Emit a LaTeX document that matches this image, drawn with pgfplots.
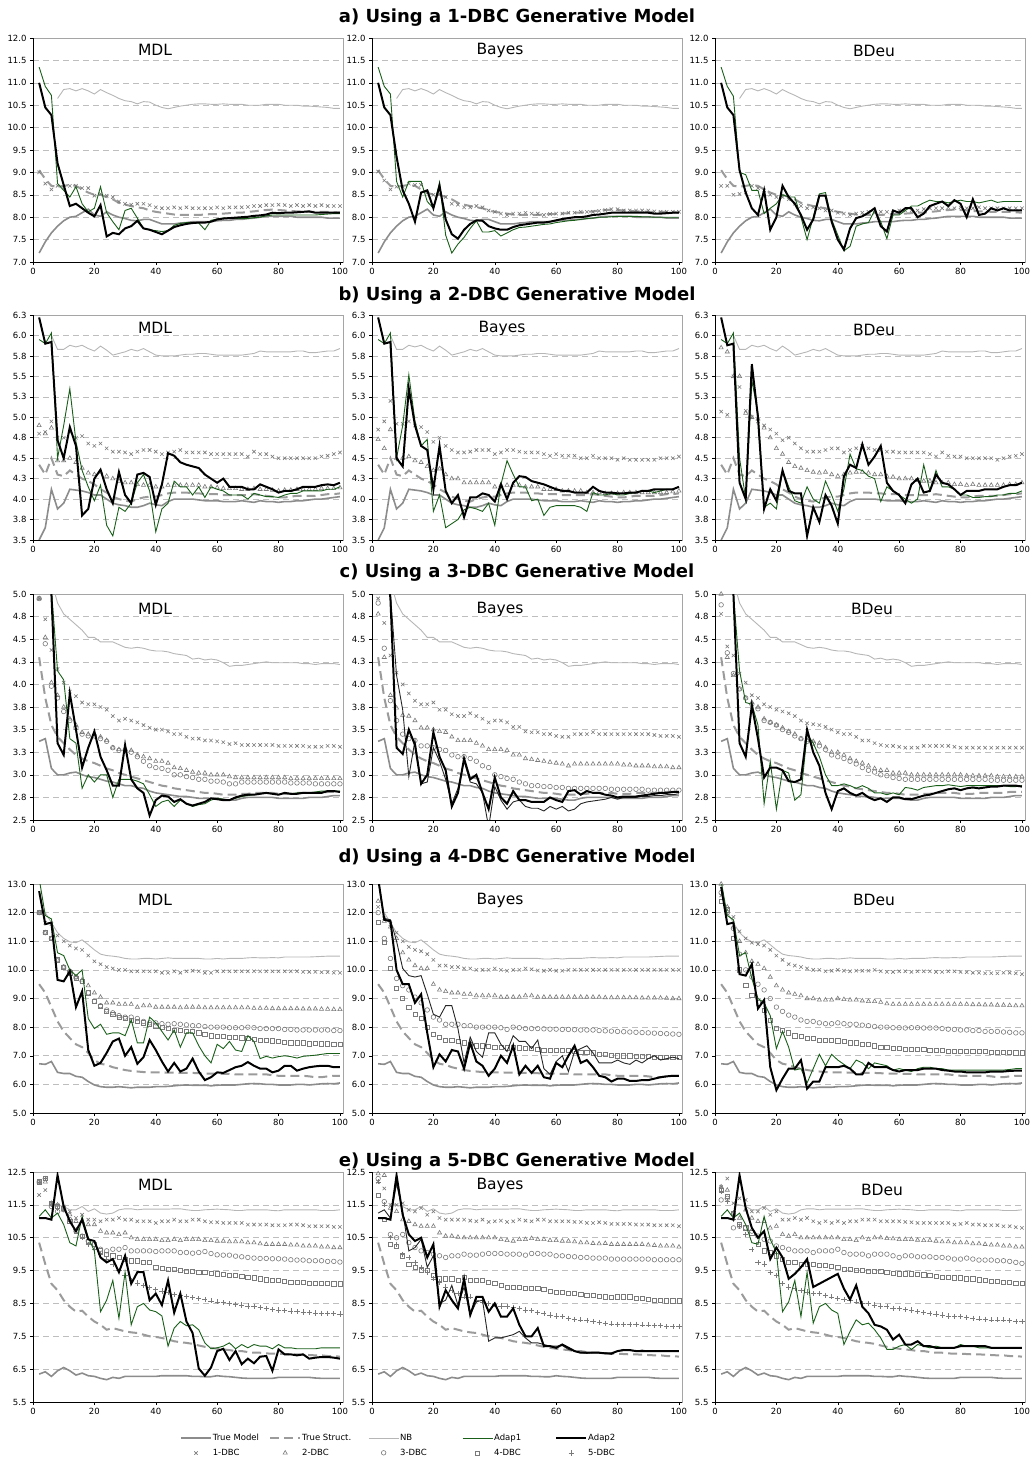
\documentclass[border=0pt]{standalone}
\usepackage{pgfplots}
\usepackage{pgfplotstable}
\pgfplotsset{compat=1.18}
\usepackage{fontspec}
\setmainfont{DejaVu Sans}

\definecolor{tmc}{RGB}{140,140,140}
\definecolor{tsc}{RGB}{155,155,155}
\definecolor{nbc}{RGB}{182,182,182}
\definecolor{a1c}{RGB}{25,95,25}
\definecolor{mkc}{RGB}{122,122,122}
\definecolor{gridc}{RGB}{190,190,190}
\definecolor{framec}{RGB}{165,165,165}

\pgfplotsset{
  tm/.style={tmc, line width=1.6pt, no markers},
  ts/.style={tsc, line width=2pt, dash pattern=on 9pt off 5pt, no markers},
  nb/.style={nbc, line width=0.9pt, no markers},
  a1/.style={a1c, line width=0.9pt, no markers},
  a1k/.style={black!85, line width=0.9pt, no markers},
  a2/.style={black, line width=2pt, no markers},
  dk/.style={mkc, only marks, mark size=2.4pt, mark options={line width=0.6pt, fill=none}},
  d1/.style={dk, mark=x},
  d2/.style={dk, mark=triangle},
  d3/.style={dk, mark=o, mark size=2.3pt},
  d4/.style={dk, mark=square, mark size=2.1pt},
  d5/.style={dk, mark=+, mark size=2.6pt},
  panel/.style={
    scale only axis, width=310pt, anchor=north west,
    xmin=0, xmax=101, xtick={0,20,...,100},
    tick align=outside, xtick pos=left, ytick pos=left,
    major tick length=3pt, tick style={black, line width=0.5pt},
    axis line style={framec, line width=0.6pt},
    ymajorgrids, major grid style={gridc, dash pattern=on 6pt off 4pt, line width=0.6pt},
    tick label style={font=\fontsize{8.5}{9}\selectfont},
    /pgf/number format/assume math mode=true,
    clip mode=individual,
    extra description/.code={\draw[black, line width=0.6pt] (0,1) -- (0,0) -- (1,0);},
  },
  onedec/.style={yticklabel style={/pgf/number format/.cd, fixed, fixed zerofill, precision=1}},
  rowA/.style={panel, height=224pt, ymin=7, ymax=12, ytick={7,7.5,...,12}, onedec},
  rowB/.style={panel, height=225pt, ymin=3.5, ymax=6.25,
    ytick={3.5,3.75,4,4.25,4.5,4.75,5,5.25,5.5,5.75,6,6.25},
    yticklabels={3.5,3.8,4.0,4.3,4.5,4.8,5.0,5.3,5.5,5.8,6.0,6.3}},
  rowC/.style={panel, height=226pt, ymin=2.5, ymax=5,
    ytick={2.5,2.75,3,3.25,3.5,3.75,4,4.25,4.5,4.75,5},
    yticklabels={2.5,2.8,3.0,3.3,3.5,3.8,4.0,4.3,4.5,4.8,5.0}},
  rowD/.style={panel, height=229pt, ymin=5, ymax=13, ytick={5,6,...,13}, onedec},
  rowE/.style={panel, height=230pt, ymin=5.5, ymax=12.5, ytick={5.5,6.5,...,12.5}, onedec},
}

% one series per row of each raw table, sample sizes 2,4,...,100
\newcommand\ser[3]{\addplot[#1] table[x expr=2*\coordindex+2, y=#2] {#3};}

% ---------- a) 1-DBC generative model ----------
\pgfplotstableread[header=false,row sep=\\]{
tm 7.2 7.45 7.65 7.8 7.92 8.0 8.02 8.1 8.18 8.05
8.02 8.12 8.05 8.0 7.97 7.93 7.92 7.95 7.95 7.9
7.85 7.85 7.85 7.87 7.88 7.9 7.9 7.9 7.9 7.92
7.93 7.93 7.95 7.95 7.97 7.98 8.0 8.02 8.02 8.02
8.02 8.02 8.0 8.0 8.0 8.0 8.0 7.98 7.98 7.98 \\
ts 9.05 8.85 8.7 8.68 8.7 8.72 8.7 8.62 8.55 8.5
8.5 8.45 8.4 8.32 8.28 8.25 8.22 8.2 8.15 8.12
8.1 8.08 8.06 8.05 8.05 8.05 8.05 8.06 8.07 8.07
8.08 8.09 8.1 8.1 8.12 8.13 8.15 8.16 8.17 8.16
8.15 8.14 8.13 8.13 8.12 8.12 8.12 8.12 8.11 8.1 \\
nb nan nan nan 10.65 10.85 10.87 10.82 10.87 10.82 10.75
10.85 10.78 10.72 10.65 10.6 10.58 10.53 10.58 10.57 10.5
10.45 10.42 10.45 10.48 10.5 10.52 10.53 10.53 10.52 10.52
10.53 10.52 10.52 10.52 10.5 10.5 10.5 10.52 10.52 10.52
10.5 10.5 10.5 10.48 10.48 10.47 10.46 10.45 10.43 10.43 \\
Ma1 11.35 10.92 10.72 8.75 8.6 8.45 8.68 8.3 8.12 8.2
8.68 8.1 7.9 7.72 8.15 8.2 7.98 7.75 7.72 7.7
7.68 7.7 7.82 7.86 7.88 7.88 7.87 7.72 7.93 7.96
7.98 7.97 7.97 7.97 7.97 7.99 8.0 8.03 8.05 8.05
8.05 8.05 8.05 8.05 8.05 8.05 8.06 8.07 8.08 8.08 \\
Ma2 11.0 10.45 10.28 9.2 8.72 8.25 8.3 8.2 8.1 8.02
8.27 7.57 7.65 7.62 7.75 7.8 7.92 7.75 7.72 7.67
7.62 7.7 7.78 7.82 7.85 7.87 7.88 7.88 7.9 7.95
7.97 7.98 7.99 8.0 8.01 8.03 8.04 8.06 8.1 8.09
8.1 8.1 8.11 8.12 8.13 8.1 8.1 8.1 8.1 8.1 \\
Md1 9.0 8.75 8.62 8.7 8.65 8.7 8.7 8.65 8.65 8.48
8.52 8.48 8.45 8.35 8.3 8.28 8.3 8.3 8.27 8.22
8.2 8.2 8.22 8.2 8.22 8.2 8.2 8.2 8.2 8.22
8.2 8.22 8.22 8.22 8.23 8.25 8.25 8.27 8.27 8.28
8.27 8.25 8.27 8.25 8.27 8.25 8.27 8.25 8.25 8.25 \\
Ba1 11.35 10.92 10.75 8.8 8.45 8.8 8.8 8.8 8.35 8.2
8.78 7.6 7.2 7.4 7.55 7.75 7.92 7.67 7.67 7.7
7.58 7.65 7.72 7.77 7.78 7.8 7.82 7.84 7.85 7.88
7.9 7.92 7.93 7.95 7.97 7.98 8.0 8.0 8.01 8.02
8.02 8.02 8.02 8.01 8.01 8.0 8.0 8.0 8.0 8.0 \\
Ba2 11.0 10.45 10.28 9.35 8.6 8.3 7.9 8.55 8.6 8.2
8.7 7.95 7.62 7.52 7.72 7.85 7.93 7.92 7.8 7.75
7.72 7.72 7.78 7.82 7.84 7.86 7.88 7.88 7.9 7.93
7.96 7.98 8.0 8.0 8.02 8.05 8.06 8.08 8.1 8.1
8.1 8.1 8.1 8.1 8.1 8.08 8.08 8.09 8.1 8.1 \\
Bd1 9.02 8.82 8.62 8.68 8.68 8.75 8.72 8.72 8.55 8.5
8.52 8.45 8.3 8.28 8.22 8.22 8.25 8.22 8.15 8.12
8.08 8.05 8.08 8.08 8.1 8.08 8.08 8.05 8.07 8.08
8.08 8.1 8.1 8.12 8.12 8.12 8.14 8.16 8.18 8.18
8.15 8.15 8.15 8.15 8.15 8.13 8.12 8.12 8.12 8.12 \\
Da1 11.35 10.92 10.7 9.0 8.95 8.6 8.6 8.08 8.2 8.3
8.5 8.45 8.45 8.0 7.5 8.0 8.52 8.55 7.95 7.6
7.25 7.35 7.8 7.85 7.88 8.15 7.9 7.52 8.05 8.05
8.15 8.25 8.25 8.32 8.38 8.35 8.35 8.32 8.35 8.38
8.35 8.35 8.32 8.35 8.38 8.33 8.35 8.35 8.35 8.35 \\
Da2 11.0 10.45 10.28 9.05 8.55 8.2 8.05 8.6 7.72 8.0
8.7 8.45 8.3 8.05 7.72 7.95 8.48 8.48 7.9 7.5
7.28 7.75 7.98 8.02 8.1 8.2 7.8 7.68 8.15 8.1
8.2 8.2 8.0 8.08 8.25 8.3 8.35 8.25 8.38 8.3
8.0 8.4 8.05 8.08 8.2 8.15 8.2 8.15 8.15 8.15 \\
Dd1 8.7 8.7 8.5 8.52 8.55 8.7 8.65 8.6 8.5 8.45
8.45 8.4 8.3 8.25 8.2 8.22 8.2 8.15 8.15 8.1
8.08 8.05 8.08 8.1 8.12 8.1 8.12 8.12 8.1 8.15
8.15 8.15 8.15 8.18 8.2 8.2 8.2 8.22 8.2 8.22
8.2 8.2 8.22 8.2 8.2 8.2 8.2 8.2 8.2 8.2 \\
}\rawA
\pgfplotstabletranspose[colnames from=0]{\tA}{\rawA}

% ---------- b) 2-DBC generative model ----------
\pgfplotstableread[header=false,row sep=\\]{
tm 3.5 3.65 4.12 3.88 3.95 4.12 4.11 4.1 4.08 4.05
4.05 4.0 3.95 3.93 3.92 3.9 3.9 3.92 3.95 3.93
3.92 3.97 4.0 4.0 4.0 4.0 3.99 3.98 3.98 3.98
3.97 3.97 3.97 3.98 3.97 3.96 3.98 3.97 3.97 3.96
3.97 3.97 3.98 3.98 3.99 4.0 4.0 4.01 4.02 4.03 \\
ts 4.42 4.3 4.5 4.3 4.28 4.35 4.3 4.25 4.22 4.18
4.12 4.08 4.03 4.0 3.98 3.97 4.0 4.02 4.03 4.03
4.05 4.07 4.08 4.08 4.08 4.07 4.07 4.06 4.06 4.06
4.05 4.05 4.05 4.05 4.05 4.06 4.05 4.04 4.03 4.02
4.02 4.03 4.04 4.04 4.04 4.04 4.05 4.06 4.06 4.07 \\
nb nan nan 6.0 5.83 5.83 5.88 5.86 5.88 5.84 5.81
5.87 5.82 5.76 5.78 5.8 5.83 5.81 5.84 5.8 5.76
5.75 5.75 5.75 5.76 5.77 5.77 5.78 5.78 5.77 5.76
5.76 5.76 5.76 5.76 5.77 5.78 5.81 5.8 5.8 5.8
5.8 5.8 5.81 5.81 5.79 5.79 5.8 5.81 5.81 5.84 \\
Ma1 5.95 5.9 6.03 4.5 4.9 5.35 4.7 4.35 4.15 3.98
4.17 3.68 3.55 3.9 3.85 3.95 4.2 4.3 4.1 3.6
3.88 3.95 4.22 4.15 4.15 4.05 4.15 4.02 4.15 4.12
4.1 4.05 4.05 4.05 4.0 4.07 4.05 4.03 4.03 4.02
4.05 4.07 4.07 4.1 4.1 4.1 4.1 4.12 4.12 4.15 \\
Ma2 6.22 5.9 5.92 4.72 4.5 4.88 4.65 3.8 3.88 4.25
4.36 4.12 3.95 4.33 4.05 3.95 4.3 4.32 4.27 3.93
4.18 4.56 4.53 4.45 4.42 4.4 4.38 4.3 4.25 4.2
4.25 4.15 4.15 4.15 4.12 4.12 4.18 4.15 4.12 4.08
4.1 4.1 4.12 4.15 4.15 4.15 4.17 4.18 4.17 4.2 \\
Md1 4.8 4.82 4.95 4.75 4.75 4.82 4.75 4.77 4.68 4.65
4.68 4.62 4.58 4.58 4.57 4.55 4.58 4.6 4.6 4.58
4.55 4.57 4.58 4.6 4.57 4.57 4.57 4.57 4.55 4.55
4.55 4.55 4.55 4.55 4.52 4.58 4.55 4.55 4.52 4.5
4.5 4.5 4.5 4.5 4.5 4.5 4.52 4.53 4.55 4.57 \\
Md2 4.9 4.8 4.87 4.47 4.47 4.5 4.45 4.38 4.32 4.3
4.33 4.28 4.25 4.22 4.2 4.2 4.18 4.17 4.17 4.15
4.15 4.17 4.17 4.17 4.17 4.17 4.17 4.15 4.15 4.14
4.13 4.13 4.13 4.12 4.12 4.13 4.12 4.12 4.11 4.1
4.11 4.11 4.12 4.12 4.12 4.12 4.13 4.13 4.13 4.14 \\
Ba1 5.95 5.9 6.03 4.5 4.9 5.52 4.95 4.65 4.73 3.85
4.05 3.65 3.7 3.75 3.87 3.9 3.88 3.85 3.95 3.68
4.18 4.47 4.3 4.15 4.15 3.98 4.0 3.8 3.9 3.92
3.92 3.92 3.92 3.9 3.85 4.08 4.05 4.05 4.07 4.05
4.05 4.07 4.08 4.1 4.1 4.08 4.1 4.12 4.12 4.15 \\
Ba2 6.22 5.9 5.92 4.5 4.4 5.35 4.9 4.65 4.6 4.12
4.65 4.1 3.95 4.05 3.78 4.02 4.02 4.07 4.05 3.97
4.18 4.0 4.2 4.28 4.27 4.22 4.2 4.18 4.15 4.12
4.1 4.1 4.08 4.08 4.08 4.15 4.1 4.08 4.08 4.07
4.07 4.08 4.08 4.1 4.1 4.12 4.12 4.12 4.12 4.15 \\
Bd1 4.85 4.95 5.2 4.92 4.92 4.95 4.9 4.88 4.82 4.7
4.75 4.65 4.6 4.57 4.57 4.58 4.6 4.6 4.6 4.55
4.57 4.6 4.6 4.58 4.57 4.57 4.57 4.55 4.53 4.55
4.53 4.53 4.53 4.5 4.5 4.53 4.5 4.5 4.5 4.48
4.5 4.48 4.48 4.48 4.48 4.48 4.5 4.5 4.5 4.52 \\
Bd2 4.73 4.62 4.85 4.5 4.5 4.52 4.47 4.45 4.4 4.35
4.37 4.3 4.25 4.25 4.2 4.2 4.2 4.2 4.2 4.15
4.17 4.17 4.17 4.17 4.15 4.15 4.15 4.12 4.12 4.12
4.1 4.1 4.1 4.1 4.08 4.08 4.08 4.07 4.07 4.07
4.08 4.08 4.08 4.08 4.08 4.08 4.08 4.08 4.09 4.1 \\
Da1 5.95 5.9 6.03 4.5 4.0 5.45 5.05 3.9 3.95 3.88
4.35 4.15 3.98 3.95 4.15 4.0 3.95 4.22 4.05 3.85
4.12 4.55 4.37 4.35 4.28 4.25 3.97 4.15 4.1 4.05
4.0 3.95 4.0 4.42 4.1 4.35 4.15 4.15 4.12 4.05
4.05 4.02 4.02 4.03 4.03 4.05 4.05 4.07 4.07 4.1 \\
Da2 6.22 5.88 5.9 4.2 4.0 5.65 5.0 3.88 4.12 3.98
4.35 4.1 4.07 4.07 3.55 3.9 3.72 4.05 3.92 3.7
4.28 4.42 4.38 4.67 4.42 4.52 4.65 4.2 4.1 4.05
3.95 4.18 4.25 4.08 4.1 4.3 4.2 4.18 4.12 4.05
4.1 4.1 4.1 4.12 4.12 4.12 4.15 4.17 4.17 4.2 \\
Dd1 5.07 5.03 5.5 5.37 5.08 5.0 4.95 4.9 4.85 4.8
4.72 4.75 4.68 4.62 4.58 4.58 4.58 4.6 4.62 4.62
4.57 4.6 4.62 4.65 4.62 4.6 4.6 4.58 4.58 4.57
4.57 4.57 4.57 4.57 4.55 4.52 4.57 4.53 4.52 4.52
4.5 4.5 4.5 4.5 4.5 4.48 4.5 4.52 4.53 4.55 \\
Dd2 5.85 5.8 5.5 5.5 5.05 5.0 4.98 4.87 4.75 4.62
4.55 4.45 4.4 4.38 4.35 4.33 4.32 4.33 4.3 4.28
4.3 4.32 4.33 4.33 4.32 4.3 4.3 4.28 4.27 4.25
4.25 4.25 4.23 4.22 4.22 4.2 4.2 4.2 4.18 4.18
4.17 4.18 4.17 4.17 4.17 4.17 4.17 4.18 4.18 4.2 \\
}\rawB
\pgfplotstabletranspose[colnames from=0]{\tB}{\rawB}

% ---------- c) 3-DBC generative model ----------
\pgfplotstableread[header=false,row sep=\\]{
tm 3.37 3.4 3.07 3.0 3.0 3.02 3.03 3.0 2.98 2.97
2.95 2.93 2.92 2.9 2.88 2.88 2.86 2.85 2.82 2.8
2.79 2.78 2.77 2.76 2.76 2.75 2.74 2.74 2.74 2.74
2.73 2.72 2.72 2.74 2.75 2.75 2.75 2.75 2.75 2.74
2.74 2.74 2.74 2.74 2.75 2.75 2.75 2.76 2.77 2.77 \\
ts 4.3 3.85 3.55 3.42 3.35 3.28 3.22 3.18 3.15 3.13
3.1 3.07 3.05 3.02 3.0 2.98 2.96 2.94 2.92 2.9
2.88 2.87 2.85 2.84 2.83 2.82 2.81 2.8 2.8 2.79
2.78 2.78 2.78 2.79 2.79 2.8 2.8 2.8 2.8 2.79
2.79 2.79 2.8 2.8 2.8 2.8 2.8 2.81 2.81 2.81 \\
nb nan nan 5.15 4.9 4.78 4.72 4.66 4.6 4.52 4.52
4.47 4.47 4.47 4.44 4.41 4.4 4.41 4.4 4.38 4.37
4.37 4.36 4.34 4.33 4.32 4.28 4.29 4.27 4.28 4.27
4.24 4.2 4.21 4.21 4.22 4.23 4.24 4.25 4.24 4.24
4.24 4.24 4.24 4.23 4.23 4.22 4.23 4.23 4.23 4.22 \\
Ma1 6.5 5.8 5.05 4.15 4.05 3.4 3.35 2.85 3.0 2.92
3.0 3.0 2.75 2.95 2.95 2.95 2.93 2.9 2.78 2.65
2.7 2.72 2.65 2.72 2.68 2.65 2.67 2.68 2.72 2.74
2.73 2.72 2.74 2.76 2.77 2.78 2.79 2.8 2.79 2.78
2.8 2.79 2.8 2.8 2.8 2.81 2.82 2.82 2.82 2.82 \\
Ma2 6.5 5.8 5.0 3.35 3.22 3.9 3.5 3.08 3.3 3.48
3.2 3.05 2.88 2.88 3.33 2.95 2.85 2.8 2.55 2.72
2.77 2.76 2.7 2.73 2.68 2.66 2.68 2.7 2.74 2.73
2.72 2.72 2.75 2.77 2.78 2.78 2.79 2.8 2.79 2.78
2.8 2.79 2.79 2.8 2.8 2.8 2.8 2.82 2.82 2.81 \\
Md1 4.95 4.72 4.38 4.17 4.02 3.92 3.87 3.8 3.78 3.78
3.75 3.72 3.65 3.6 3.62 3.6 3.58 3.55 3.52 3.5
3.5 3.48 3.45 3.45 3.42 3.4 3.4 3.38 3.38 3.37
3.36 3.34 3.35 3.33 3.33 3.33 3.33 3.33 3.33 3.32
3.32 3.32 3.32 3.32 3.31 3.31 3.31 3.32 3.32 3.31 \\
Md2 4.95 4.52 4.02 3.88 3.75 3.62 3.55 3.47 3.45 3.45
3.42 3.38 3.3 3.28 3.28 3.27 3.22 3.2 3.18 3.15
3.15 3.13 3.08 3.07 3.05 3.03 3.02 3.02 3.0 3.0
3.0 2.98 2.97 2.97 2.97 2.97 2.97 2.97 2.97 2.97
2.97 2.96 2.96 2.96 2.96 2.96 2.96 2.96 2.96 2.96 \\
Md3 4.95 4.45 3.98 3.85 3.7 3.6 3.52 3.45 3.43 3.43
3.4 3.37 3.3 3.27 3.27 3.25 3.2 3.15 3.1 3.08
3.07 3.05 3.0 3.0 2.98 2.97 2.95 2.95 2.93 2.93
2.92 2.9 2.9 2.92 2.92 2.92 2.92 2.92 2.92 2.92
2.92 2.91 2.91 2.91 2.91 2.9 2.9 2.9 2.9 2.9 \\
Ba1 6.5 5.6 5.0 4.1 3.72 2.98 3.38 2.9 2.92 3.3
3.15 2.95 2.68 2.85 3.15 2.92 2.9 2.8 2.42 2.87
2.72 2.62 2.7 2.72 2.65 2.63 2.63 2.6 2.65 2.62
2.65 2.6 2.62 2.68 2.7 2.71 2.72 2.73 2.75 2.73
2.75 2.75 2.75 2.76 2.76 2.77 2.77 2.78 2.78 2.79 \\
Ba2 6.5 5.6 4.95 3.3 3.23 3.5 3.33 2.9 3.0 3.47
3.2 3.05 2.65 2.8 3.18 2.95 3.0 2.8 2.62 2.97
2.75 2.68 2.82 2.72 2.72 2.7 2.7 2.7 2.75 2.72
2.7 2.82 2.83 2.78 2.82 2.8 2.8 2.78 2.77 2.75
2.76 2.76 2.76 2.77 2.78 2.79 2.8 2.8 2.81 2.81 \\
Bd1 4.95 4.68 4.32 4.13 4.0 3.9 3.82 3.78 3.78 3.8
3.72 3.72 3.67 3.65 3.65 3.68 3.65 3.62 3.58 3.6
3.6 3.58 3.53 3.53 3.48 3.47 3.47 3.45 3.45 3.43
3.42 3.42 3.45 3.45 3.45 3.47 3.45 3.45 3.45 3.45
3.45 3.45 3.45 3.45 3.45 3.44 3.43 3.43 3.43 3.42 \\
Bd2 4.78 4.3 3.88 3.74 3.66 3.65 3.6 3.52 3.52 3.5
3.48 3.47 3.42 3.38 3.38 3.38 3.35 3.32 3.28 3.28
3.28 3.27 3.22 3.22 3.18 3.17 3.16 3.15 3.14 3.13
3.12 3.1 3.12 3.12 3.12 3.12 3.12 3.12 3.12 3.12
3.11 3.11 3.1 3.1 3.1 3.09 3.09 3.09 3.08 3.08 \\
Bd3 4.9 4.4 3.82 3.6 3.45 3.4 3.38 3.32 3.32 3.3
3.28 3.27 3.22 3.2 3.2 3.18 3.15 3.1 3.08 3.0
2.98 2.96 2.95 2.92 2.9 2.88 2.88 2.87 2.87 2.86
2.86 2.85 2.85 2.85 2.85 2.85 2.85 2.85 2.84 2.84
2.84 2.84 2.84 2.84 2.83 2.83 2.83 2.83 2.83 2.83 \\
Da1 6.5 5.6 5.0 4.15 3.8 3.78 3.55 2.68 3.15 2.62
3.05 3.02 2.72 2.78 3.45 3.35 3.2 3.0 2.88 2.88
2.9 2.88 2.85 2.88 2.85 2.8 2.8 2.78 2.8 2.78
2.86 2.85 2.83 2.86 2.87 2.88 2.88 2.89 2.88 2.87
2.88 2.88 2.88 2.88 2.88 2.88 2.88 2.87 2.87 2.88 \\
Da2 6.5 5.6 5.0 3.35 3.2 3.77 3.4 2.97 3.08 3.08
3.05 2.93 2.92 2.95 3.5 3.25 3.1 2.8 2.62 2.82
2.85 2.8 2.77 2.8 2.75 2.72 2.74 2.7 2.75 2.75
2.73 2.73 2.75 2.77 2.78 2.8 2.82 2.84 2.85 2.83
2.85 2.86 2.85 2.86 2.87 2.87 2.88 2.88 2.88 2.87 \\
Dd1 4.78 4.42 4.32 4.12 4.02 3.88 3.85 3.78 3.75 3.72
3.7 3.68 3.65 3.6 3.57 3.56 3.55 3.53 3.5 3.47
3.45 3.45 3.42 3.38 3.38 3.35 3.33 3.32 3.32 3.31
3.3 3.3 3.3 3.32 3.32 3.32 3.32 3.32 3.31 3.3
3.3 3.3 3.3 3.3 3.3 3.3 3.3 3.3 3.3 3.3 \\
Dd2 5.0 4.3 4.1 3.95 3.85 3.8 3.75 3.62 3.58 3.55
3.52 3.48 3.45 3.4 3.38 3.37 3.35 3.3 3.25 3.25
3.22 3.18 3.15 3.13 3.1 3.07 3.05 3.05 3.02 3.02
3.02 3.0 3.0 3.0 3.0 3.0 3.0 3.0 3.0 3.0
2.99 2.99 2.99 2.99 2.99 2.98 2.98 2.98 2.98 2.98 \\
Dd3 4.88 4.35 4.12 3.95 3.85 3.78 3.73 3.6 3.58 3.55
3.5 3.47 3.43 3.4 3.37 3.35 3.32 3.28 3.22 3.2
3.18 3.15 3.12 3.08 3.05 3.03 3.0 2.99 2.97 2.96
2.95 2.95 2.95 2.95 2.95 2.95 2.95 2.95 2.95 2.95
2.95 2.95 2.95 2.95 2.94 2.94 2.94 2.94 2.94 2.94 \\
}\rawC
\pgfplotstabletranspose[colnames from=0]{\tC}{\rawC}

% ---------- d) 4-DBC generative model ----------
\pgfplotstableread[header=false,row sep=\\]{
tm 6.72 6.7 6.8 6.42 6.38 6.38 6.28 6.25 6.1 5.98
5.92 5.9 5.9 5.92 5.9 5.88 5.9 5.9 5.9 5.92
5.92 5.93 5.95 5.97 5.98 5.97 5.97 5.97 5.95 5.97
5.98 5.98 5.98 6.0 6.02 6.03 6.02 6.0 6.0 5.98
5.98 5.98 6.0 6.0 5.98 6.0 6.02 6.03 6.02 6.05 \\
ts 9.5 9.2 8.7 8.2 7.85 7.62 7.4 7.3 7.1 6.85
6.72 6.68 6.6 6.55 6.5 6.47 6.45 6.43 6.42 6.42
6.42 6.41 6.41 6.4 6.4 6.4 6.39 6.38 6.38 6.37
6.37 6.37 6.35 6.35 6.35 6.35 6.35 6.35 6.32 6.3
6.3 6.3 6.3 6.3 6.28 6.25 6.25 6.28 6.3 6.3 \\
nb nan 12.0 11.65 11.3 11.1 10.98 10.95 11.05 10.88 10.7
10.55 10.5 10.48 10.45 10.4 10.38 10.38 10.4 10.4 10.38
10.4 10.42 10.4 10.4 10.4 10.4 10.4 10.38 10.38 10.4
10.38 10.4 10.4 10.4 10.42 10.43 10.42 10.42 10.43 10.42
10.45 10.45 10.45 10.45 10.45 10.46 10.47 10.48 10.48 10.48 \\
Ma1 13.2 11.9 11.78 10.6 10.5 10.0 9.8 10.0 8.3 7.95
8.1 7.75 7.8 7.8 7.7 8.25 7.45 7.45 8.35 8.15
7.85 7.55 7.9 7.3 7.8 7.8 7.35 7.0 6.75 7.4
7.25 7.5 7.2 7.15 7.7 7.5 6.9 6.98 6.92 6.97
7.0 6.97 6.92 6.98 7.0 7.02 7.05 7.08 7.08 7.08 \\
Ma2 12.75 11.6 11.65 9.65 9.6 9.95 8.7 9.25 7.2 6.65
6.75 7.1 7.5 7.6 7.0 7.3 6.72 6.95 7.55 7.2
6.8 6.45 6.75 6.45 6.55 6.9 6.45 6.15 6.25 6.42
6.4 6.5 6.6 6.65 6.78 6.65 6.55 6.55 6.42 6.48
6.65 6.65 6.48 6.55 6.6 6.63 6.65 6.65 6.6 6.6 \\
Md1 12.0 11.65 11.6 11.2 11.0 10.85 10.75 10.7 10.5 10.3
10.2 10.1 10.05 10.0 10.0 9.95 9.95 9.95 9.95 9.95
9.9 9.9 9.95 9.9 9.95 9.97 9.95 9.9 9.9 9.95
9.95 9.95 9.95 9.95 9.95 9.95 9.95 9.95 9.95 9.95
9.95 9.95 9.95 9.93 9.93 9.93 9.92 9.92 9.9 9.9 \\
Md2 12.0 11.3 11.1 10.35 10.1 9.95 9.75 9.65 9.45 9.2
9.05 8.85 8.85 8.8 8.8 8.8 8.7 8.75 8.75 8.7
8.7 8.7 8.7 8.68 8.7 8.7 8.7 8.68 8.68 8.68
8.68 8.68 8.68 8.68 8.68 8.66 8.66 8.66 8.65 8.65
8.65 8.65 8.65 8.64 8.64 8.64 8.63 8.63 8.62 8.62 \\
Md3 12.0 11.3 11.1 10.35 10.1 9.95 9.75 9.6 9.2 8.9
8.75 8.6 8.5 8.4 8.35 8.35 8.3 8.2 8.15 8.15
8.12 8.1 8.12 8.1 8.08 8.05 8.05 8.02 8.0 8.0
8.0 7.98 7.98 7.98 8.0 7.98 7.95 7.95 7.95 7.95
7.92 7.92 7.9 7.9 7.9 7.9 7.9 7.9 7.88 7.88 \\
Md4 12.0 11.3 11.1 10.35 10.1 9.9 9.7 9.6 9.2 8.9
8.72 8.55 8.45 8.35 8.3 8.25 8.2 8.15 8.1 8.05
8.0 7.95 7.9 7.9 7.85 7.85 7.8 7.75 7.7 7.68
7.68 7.65 7.65 7.63 7.6 7.58 7.55 7.55 7.52 7.5
7.48 7.45 7.45 7.45 7.42 7.43 7.42 7.42 7.4 7.4 \\
Ba1 13.2 11.8 11.75 11.0 10.05 9.8 9.75 9.8 9.15 8.45
8.35 8.75 8.75 7.95 6.75 7.65 7.15 6.95 7.8 7.8
7.4 7.15 7.7 7.5 7.5 7.25 7.55 6.55 6.35 6.8
7.0 6.45 7.15 7.25 7.35 7.1 6.75 6.75 6.75 6.85
6.75 6.7 6.85 6.75 6.9 7.0 6.85 6.9 6.95 6.9 \\
Ba2 13.2 11.75 11.7 10.0 9.5 9.5 8.85 9.15 7.8 6.6
7.05 6.8 7.2 7.15 6.55 7.45 6.8 6.65 6.3 6.55
7.0 6.75 7.35 6.35 6.65 6.4 6.65 6.25 6.2 6.75
6.6 7.0 7.35 6.75 6.85 6.6 6.3 6.25 6.1 6.2
6.2 6.12 6.12 6.15 6.15 6.2 6.25 6.28 6.3 6.3 \\
Bd1 12.2 11.8 11.6 11.3 11.0 10.8 10.7 10.65 10.55 10.35
10.15 10.15 10.1 10.1 10.05 10.05 10.0 10.0 10.0 10.05
10.0 9.97 10.0 10.0 10.05 10.02 9.98 9.97 10.0 9.97
9.97 10.0 10.0 10.0 10.0 10.0 10.0 10.0 10.0 10.0
10.0 10.0 10.0 10.0 10.0 10.0 10.0 10.0 10.0 10.0 \\
Bd2 12.4 11.7 11.5 11.1 10.6 10.35 10.15 10.05 10.05 9.5
9.3 9.25 9.2 9.2 9.15 9.15 9.1 9.1 9.1 9.1
9.05 9.05 9.05 9.05 9.1 9.1 9.05 9.05 9.05 9.05
9.05 9.05 9.05 9.05 9.05 9.05 9.05 9.03 9.03 9.03
9.03 9.03 9.03 9.02 9.02 9.02 9.02 9.01 9.0 9.0 \\
Bd3 12.0 11.1 10.4 9.7 9.45 9.3 9.05 8.85 8.6 8.35
8.25 8.1 8.1 8.1 8.05 8.05 8.0 8.0 8.0 8.0
7.98 7.92 8.0 7.98 7.95 7.95 7.95 7.94 7.93 7.93
7.92 7.92 7.91 7.9 7.9 7.9 7.88 7.87 7.86 7.85
7.84 7.83 7.82 7.81 7.8 7.79 7.78 7.77 7.76 7.75 \\
Bd4 11.65 10.95 10.05 9.35 9.0 8.7 8.45 8.3 8.0 7.75
7.65 7.55 7.55 7.5 7.45 7.4 7.35 7.35 7.32 7.3
7.3 7.28 7.3 7.28 7.25 7.25 7.22 7.2 7.2 7.2
7.2 7.18 7.15 7.12 7.12 7.1 7.05 7.05 7.02 7.0
7.0 7.0 6.98 6.97 6.97 6.95 6.95 6.95 6.95 6.95 \\
Da1 13.1 11.9 11.75 10.5 10.6 9.7 9.0 8.85 8.4 7.25
7.85 7.3 6.5 6.55 6.05 6.55 7.05 6.65 7.05 6.85
6.7 6.55 6.85 6.75 6.55 6.75 6.7 6.65 6.5 6.55
6.5 6.45 6.55 6.6 6.6 6.55 6.55 6.5 6.5 6.5
6.5 6.5 6.5 6.5 6.5 6.5 6.5 6.52 6.55 6.55 \\
Da2 12.9 11.6 11.65 9.85 9.8 10.2 8.65 8.95 6.6 5.8
6.2 6.55 6.55 6.85 5.85 6.1 6.1 6.6 6.6 6.6
6.65 6.55 6.35 6.35 6.75 6.6 6.6 6.6 6.5 6.45
6.5 6.5 6.5 6.55 6.55 6.55 6.5 6.48 6.45 6.45
6.42 6.42 6.42 6.42 6.45 6.45 6.45 6.47 6.48 6.48 \\
Dd1 12.6 12.1 11.85 11.35 11.1 10.95 10.9 10.85 10.7 10.5
10.35 10.2 10.15 10.1 10.05 10.0 10.0 9.95 9.97 10.0
9.97 9.95 9.97 9.97 9.97 10.0 9.95 9.93 9.93 9.95
9.95 9.93 9.95 9.95 9.95 9.93 9.93 9.95 9.95 9.93
9.92 9.9 9.9 9.88 9.88 9.88 9.9 9.9 9.88 9.85 \\
Dd2 13.0 12.2 11.5 11.0 10.6 10.3 10.2 10.05 9.75 9.45
9.3 9.2 9.15 9.1 9.0 9.0 8.95 8.95 8.95 9.0
8.97 8.95 8.95 8.92 8.9 8.9 8.87 8.82 8.8 8.8
8.8 8.8 8.8 8.8 8.8 8.8 8.8 8.8 8.8 8.8
8.8 8.79 8.79 8.78 8.78 8.77 8.77 8.76 8.75 8.75 \\
Dd3 12.7 12.0 11.45 10.55 10.0 9.75 9.5 9.3 9.0 8.7
8.55 8.42 8.35 8.25 8.2 8.2 8.15 8.12 8.12 8.15
8.12 8.1 8.1 8.07 8.05 8.02 8.0 8.0 7.98 7.98
7.97 7.98 7.98 7.97 7.97 7.97 7.95 7.93 7.92 7.9
7.9 7.88 7.88 7.85 7.85 7.85 7.83 7.82 7.8 7.8 \\
Dd4 12.4 12.1 11.1 10.0 9.45 9.1 8.85 8.6 8.25 7.95
7.9 7.8 7.7 7.68 7.62 7.6 7.55 7.55 7.55 7.52
7.5 7.45 7.45 7.4 7.4 7.35 7.3 7.3 7.25 7.25
7.22 7.22 7.22 7.22 7.2 7.2 7.18 7.15 7.15 7.15
7.15 7.15 7.15 7.15 7.12 7.12 7.12 7.12 7.1 7.1 \\
}\rawD
\pgfplotstabletranspose[colnames from=0]{\tD}{\rawD}

% ---------- e) 5-DBC generative model ----------
\pgfplotstableread[header=false,row sep=\\]{
tm 6.35 6.42 6.28 6.45 6.55 6.45 6.32 6.38 6.3 6.28
6.22 6.18 6.25 6.22 6.28 6.28 6.28 6.28 6.28 6.28
6.3 6.3 6.3 6.3 6.3 6.28 6.28 6.27 6.27 6.3
6.28 6.27 6.25 6.23 6.22 6.22 6.22 6.22 6.22 6.25
6.25 6.25 6.25 6.25 6.25 6.23 6.22 6.22 6.22 6.22 \\
ts 10.35 9.7 9.1 8.9 8.6 8.4 8.25 8.28 8.1 7.95
7.85 7.7 7.75 7.7 7.65 7.62 7.6 7.55 7.5 7.48
7.45 7.4 7.35 7.32 7.3 7.27 7.22 7.18 7.15 7.12
7.1 7.08 7.05 7.05 7.02 7.0 7.0 6.98 6.97 6.97
6.96 6.95 6.95 6.94 6.93 6.92 6.92 6.9 6.9 6.88 \\
nb nan nan 11.55 11.5 11.45 11.35 11.35 11.45 11.3 11.38
11.25 11.22 11.25 11.35 11.38 11.38 11.35 11.37 11.37 11.37
11.37 11.37 11.38 11.38 11.35 11.33 11.33 11.35 11.36 11.37
11.36 11.35 11.33 11.33 11.35 11.35 11.35 11.35 11.33 11.32
11.35 11.35 11.35 11.35 11.35 11.35 11.33 11.33 11.33 11.35 \\
Ma1 11.15 11.35 11.1 11.25 10.9 10.35 10.25 11.15 10.5 10.1
8.25 8.6 9.2 8.05 9.45 7.85 8.4 8.5 8.3 8.25
8.12 7.2 7.75 7.95 7.82 7.85 7.7 7.3 7.12 7.15
7.2 7.3 7.12 7.25 7.15 7.25 7.2 7.2 7.12 7.25
7.15 7.15 7.12 7.12 7.12 7.12 7.15 7.15 7.15 7.15 \\
Ma2 11.1 11.1 11.05 12.4 11.45 11.0 10.7 11.05 10.45 10.4
9.9 9.75 9.85 9.45 9.95 9.1 9.45 9.45 8.6 8.8
8.45 9.2 8.22 8.8 7.95 7.6 6.52 6.3 6.55 7.05
7.12 6.78 7.05 6.65 6.82 6.68 6.88 6.9 6.45 7.1
6.95 6.95 6.92 6.95 6.82 6.85 6.87 6.87 6.85 6.82 \\
Md1 11.8 11.95 11.5 11.5 11.45 11.3 11.1 11.2 11.05 11.05
11.0 11.05 11.05 11.1 11.05 11.05 11.0 11.0 11.0 10.95
11.0 11.0 11.05 11.0 11.0 11.05 11.05 11.0 10.97 10.97
10.95 10.95 10.95 10.95 10.9 10.9 10.9 10.9 10.88 10.88
10.88 10.9 10.9 10.88 10.85 10.85 10.85 10.85 10.83 10.83 \\
Md2 12.2 12.2 11.55 11.5 11.35 11.2 11.0 11.0 10.9 10.9
10.7 10.65 10.65 10.6 10.65 10.5 10.45 10.45 10.45 10.45
10.42 10.42 10.45 10.42 10.45 10.45 10.45 10.42 10.42 10.4
10.4 10.38 10.38 10.38 10.35 10.35 10.32 10.3 10.3 10.3
10.3 10.28 10.28 10.25 10.25 10.25 10.22 10.22 10.2 10.2 \\
Md3 12.2 12.3 11.45 11.3 11.35 11.05 10.7 10.55 10.4 10.3
10.15 10.1 10.15 10.15 10.2 10.1 10.1 10.1 10.1 10.08
10.1 10.1 10.1 10.05 10.05 10.03 10.05 10.08 10.02 9.98
9.97 9.97 9.94 9.92 9.9 9.88 9.87 9.87 9.86 9.86
9.85 9.83 9.82 9.82 9.8 9.8 9.8 9.78 9.78 9.76 \\
Md4 12.2 12.3 11.55 11.45 11.4 11.0 10.7 10.55 10.4 10.3
10.1 10.0 9.95 9.9 9.85 9.8 9.8 9.75 9.75 9.6
9.58 9.55 9.55 9.5 9.48 9.48 9.45 9.45 9.42 9.4
9.38 9.35 9.35 9.32 9.3 9.28 9.25 9.22 9.2 9.2
9.18 9.15 9.15 9.15 9.12 9.12 9.12 9.12 9.1 9.1 \\
Md5 12.2 12.3 11.5 11.4 11.35 11.0 10.75 10.5 10.3 10.15
10.0 9.85 9.7 9.5 9.35 9.2 9.12 9.05 8.98 8.92
8.88 8.83 8.78 8.75 8.72 8.68 8.65 8.62 8.58 8.55
8.52 8.5 8.48 8.45 8.42 8.4 8.38 8.35 8.32 8.3
8.28 8.27 8.25 8.24 8.22 8.21 8.2 8.2 8.19 8.18 \\
Ba1 11.25 11.35 11.1 12.15 11.3 10.1 10.2 10.45 9.6 9.95
8.5 8.6 9.05 8.45 9.0 8.15 8.55 8.6 7.35 7.45
7.45 7.5 7.55 7.65 7.45 7.3 7.3 7.25 7.2 7.2
7.22 7.1 7.05 7.0 6.98 7.0 7.0 7.0 6.95 7.05
7.1 7.08 7.05 7.08 7.05 7.05 7.05 7.05 7.05 7.05 \\
Ba2 11.1 11.1 11.05 12.4 11.2 10.6 10.4 10.5 9.9 10.3
8.4 8.9 8.6 8.35 9.25 8.15 8.7 8.7 8.25 8.5
8.1 8.1 8.35 7.85 7.5 7.5 7.75 7.2 7.2 7.15
7.25 7.15 7.05 7.0 7.0 7.0 7.0 6.98 6.98 7.05
7.08 7.08 7.05 7.05 7.05 7.05 7.05 7.05 7.05 7.05 \\
Bd1 12.2 12.0 11.5 11.5 11.55 11.35 11.3 11.4 11.2 11.3
11.1 11.05 11.05 11.05 11.05 11.02 11.0 11.05 10.98 11.0
11.02 10.98 11.0 11.05 11.02 11.0 11.05 11.05 11.0 11.0
11.0 11.0 10.98 10.98 10.95 10.95 10.97 10.95 10.92 10.92
10.92 10.92 10.9 10.9 10.9 10.88 10.88 10.88 10.88 10.85 \\
Bd2 12.45 12.4 11.4 11.3 11.05 11.0 10.9 10.85 10.85 10.85
10.65 10.55 10.55 10.52 10.5 10.5 10.5 10.5 10.5 10.5
10.45 10.42 10.4 10.45 10.45 10.48 10.45 10.45 10.42 10.42
10.4 10.4 10.38 10.35 10.35 10.33 10.32 10.33 10.3 10.3
10.3 10.3 10.3 10.3 10.28 10.27 10.25 10.25 10.25 10.22 \\
Bd3 12.3 11.6 10.6 10.5 10.6 10.35 10.2 10.1 10.05 10.0
9.95 9.9 9.95 9.95 10.0 9.97 9.97 10.0 10.02 10.02
10.02 10.0 10.0 10.0 9.97 10.02 10.02 10.0 10.0 9.95
9.95 9.93 9.92 9.9 9.9 9.88 9.88 9.88 9.85 9.85
9.85 9.85 9.85 9.85 9.85 9.83 9.83 9.83 9.83 9.83 \\
Bd4 11.8 11.05 10.3 10.25 9.95 9.7 9.6 9.5 9.5 9.35
9.25 9.25 9.25 9.2 9.3 9.2 9.2 9.2 9.15 9.12
9.05 9.0 9.0 8.98 8.95 8.97 8.95 8.92 8.88 8.85
8.85 8.82 8.8 8.78 8.75 8.75 8.72 8.7 8.68 8.7
8.7 8.7 8.65 8.65 8.62 8.6 8.6 8.58 8.58 8.58 \\
Bd5 12.2 11.5 10.5 10.3 10.0 9.9 9.75 9.6 9.45 9.25
9.15 9.0 8.9 8.8 8.7 8.7 8.6 8.55 8.5 8.47
8.42 8.4 8.38 8.35 8.3 8.28 8.22 8.2 8.15 8.12
8.1 8.05 8.02 8.0 7.98 7.95 7.92 7.9 7.88 7.87
7.87 7.87 7.87 7.85 7.85 7.83 7.82 7.8 7.8 7.8 \\
Da1 11.15 11.35 11.1 11.25 10.9 10.35 10.3 11.15 10.45 10.05
8.25 8.55 9.2 8.1 9.45 7.9 8.4 8.5 8.3 8.2
7.25 7.65 8.0 7.85 7.9 7.7 7.45 7.1 7.1 7.2
7.25 7.1 7.25 7.2 7.15 7.2 7.15 7.15 7.15 7.25
7.2 7.2 7.15 7.15 7.15 7.15 7.15 7.15 7.15 7.15 \\
Da2 11.1 11.1 11.05 12.4 11.4 10.8 10.5 10.7 9.85 10.2
9.9 9.25 9.4 9.6 9.85 9.0 9.1 9.2 9.3 9.4
8.95 8.62 9.05 8.4 8.2 7.85 7.8 7.7 7.4 7.55
7.25 7.25 7.35 7.2 7.2 7.15 7.15 7.15 7.15 7.2
7.2 7.2 7.2 7.2 7.15 7.15 7.15 7.15 7.15 7.15 \\
Dd1 12.05 12.3 11.55 11.7 11.65 11.3 11.3 11.4 11.2 11.3
11.05 11.05 11.1 11.05 11.1 11.0 10.95 11.0 10.95 11.0
10.95 11.0 11.0 11.05 11.05 11.05 11.0 11.0 11.0 11.0
10.98 10.97 10.95 10.95 10.95 10.95 10.95 10.95 10.9 10.92
10.95 10.9 10.9 10.88 10.88 10.88 10.85 10.85 10.82 10.8 \\
Dd2 12.05 11.95 11.25 11.1 11.35 11.1 11.0 11.0 10.8 10.85
10.6 10.55 10.6 10.5 10.5 10.5 10.5 10.5 10.5 10.5
10.45 10.45 10.42 10.5 10.45 10.5 10.5 10.48 10.47 10.45
10.45 10.45 10.43 10.42 10.42 10.4 10.38 10.38 10.35 10.35
10.35 10.32 10.32 10.3 10.28 10.28 10.25 10.25 10.22 10.22 \\
Dd3 11.65 11.7 10.8 10.85 10.8 10.7 10.55 10.45 10.4 10.25
10.2 10.15 10.1 10.1 10.1 10.05 10.1 10.1 10.1 10.15
10.05 10.0 10.0 10.0 9.95 10.0 10.0 10.0 9.95 9.9
9.95 9.95 9.92 9.92 9.92 9.9 9.9 9.88 9.85 9.85
9.88 9.85 9.82 9.82 9.82 9.8 9.8 9.78 9.75 9.72 \\
Dd4 11.95 11.75 11.25 10.9 10.8 10.65 10.3 10.1 10.05 9.95
9.85 9.75 9.75 9.7 9.7 9.7 9.65 9.65 9.62 9.6
9.55 9.55 9.52 9.5 9.48 9.48 9.47 9.45 9.42 9.4
9.4 9.4 9.38 9.37 9.35 9.33 9.3 9.3 9.28 9.28
9.25 9.25 9.22 9.2 9.18 9.18 9.15 9.15 9.12 9.12 \\
Dd5 11.9 11.6 11.05 10.85 10.6 10.15 9.75 9.7 9.45 9.35
9.1 9.0 8.95 8.9 8.85 8.8 8.8 8.75 8.7 8.65
8.62 8.6 8.55 8.5 8.5 8.45 8.42 8.4 8.35 8.35
8.32 8.3 8.25 8.22 8.2 8.18 8.15 8.12 8.1 8.1
8.08 8.05 8.03 8.02 8.0 8.0 8.0 7.98 7.95 7.95 \\
}\rawE
\pgfplotstabletranspose[colnames from=0]{\tE}{\rawE}

% legend column: two entries stacked
\newcommand\legcol[5]{%
  \begin{axis}[hide axis, scale only axis, width=1pt, height=1pt,
    xmin=0, xmax=1, ymin=0, ymax=1, at={(#1pt,-1433pt)}, anchor=north west,
    legend cell align=left,
    legend image code/.code={\draw[mark repeat=2,mark phase=2,##1] plot coordinates {(0pt,0pt) (15pt,0pt) (30pt,0pt)};},
    legend style={at={(0,1)}, anchor=north west, draw=none, fill=none,
      inner sep=0pt, row sep=5pt, font=\fontsize{8.5}{10}\selectfont,
      nodes={inner sep=1pt}}]
    \addlegendimage{#2}\addlegendentry{#3}
    \addlegendimage{#4}\addlegendentry{#5}
  \end{axis}}

\begin{document}
\begin{tikzpicture}[x=1pt,y=1pt]
\useasboundingbox (0,0) rectangle (1035,-1467);

% row titles
\begin{scope}[every node/.style={font=\bfseries\fontsize{18}{21}\selectfont}]
\node at (517,-18) {a) Using a 1-DBC Generative Model};
\node at (517,-296) {b) Using a 2-DBC Generative Model};
\node at (517,-573) {c) Using a 3-DBC Generative Model};
\node at (517,-858) {d) Using a 4-DBC Generative Model};
\node at (517,-1162) {e) Using a 5-DBC Generative Model};
\end{scope}

% ---- row a ----
\begin{axis}[rowA, at={(33pt,-38pt)}]
\ser{tm}{tm}{\tA}\ser{ts}{ts}{\tA}\ser{nb}{nb}{\tA}
\ser{d1}{Md1}{\tA}\ser{a1}{Ma1}{\tA}\ser{a2}{Ma2}{\tA}
\end{axis}
\begin{axis}[rowA, at={(372pt,-38pt)}]
\ser{tm}{tm}{\tA}\ser{ts}{ts}{\tA}\ser{nb}{nb}{\tA}
\ser{d1}{Bd1}{\tA}\ser{a1}{Ba1}{\tA}\ser{a2}{Ba2}{\tA}
\end{axis}
\begin{axis}[rowA, at={(715pt,-38pt)}]
\ser{tm}{tm}{\tA}\ser{ts}{ts}{\tA}\ser{nb}{nb}{\tA}
\ser{d1}{Dd1}{\tA}\ser{a1}{Da1}{\tA}\ser{a2}{Da2}{\tA}
\end{axis}

% ---- row b ----
\begin{axis}[rowB, at={(33pt,-315pt)}]
\ser{tm}{tm}{\tB}\ser{ts}{ts}{\tB}\ser{nb}{nb}{\tB}
\ser{d1}{Md1}{\tB}\ser{d2}{Md2}{\tB}\ser{a1}{Ma1}{\tB}\ser{a2}{Ma2}{\tB}
\end{axis}
\begin{axis}[rowB, at={(372pt,-315pt)}]
\ser{tm}{tm}{\tB}\ser{ts}{ts}{\tB}\ser{nb}{nb}{\tB}
\ser{d1}{Bd1}{\tB}\ser{d2}{Bd2}{\tB}\ser{a1}{Ba1}{\tB}\ser{a2}{Ba2}{\tB}
\end{axis}
\begin{axis}[rowB, at={(715pt,-315pt)}]
\ser{tm}{tm}{\tB}\ser{ts}{ts}{\tB}\ser{nb}{nb}{\tB}
\ser{d1}{Dd1}{\tB}\ser{d2}{Dd2}{\tB}\ser{a1}{Da1}{\tB}\ser{a2}{Da2}{\tB}
\end{axis}

% ---- row c ----
\begin{axis}[rowC, at={(33pt,-594pt)}]
\ser{tm}{tm}{\tC}\ser{ts}{ts}{\tC}\ser{nb}{nb}{\tC}
\ser{d1}{Md1}{\tC}\ser{d2}{Md2}{\tC}\ser{d3}{Md3}{\tC}\ser{a1}{Ma1}{\tC}\ser{a2}{Ma2}{\tC}
\end{axis}
\begin{axis}[rowC, at={(372pt,-594pt)}]
\ser{tm}{tm}{\tC}\ser{ts}{ts}{\tC}\ser{nb}{nb}{\tC}
\ser{d1}{Bd1}{\tC}\ser{d2}{Bd2}{\tC}\ser{d3}{Bd3}{\tC}\ser{a1k}{Ba1}{\tC}\ser{a2}{Ba2}{\tC}
\end{axis}
\begin{axis}[rowC, at={(715pt,-594pt)}]
\ser{tm}{tm}{\tC}\ser{ts}{ts}{\tC}\ser{nb}{nb}{\tC}
\ser{d1}{Dd1}{\tC}\ser{d2}{Dd2}{\tC}\ser{d3}{Dd3}{\tC}\ser{a1}{Da1}{\tC}\ser{a2}{Da2}{\tC}
\end{axis}

% ---- row d ----
\begin{axis}[rowD, at={(33pt,-884pt)}]
\ser{tm}{tm}{\tD}\ser{ts}{ts}{\tD}\ser{nb}{nb}{\tD}
\ser{d1}{Md1}{\tD}\ser{d2}{Md2}{\tD}\ser{d3}{Md3}{\tD}\ser{d4}{Md4}{\tD}\ser{a1}{Ma1}{\tD}\ser{a2}{Ma2}{\tD}
\end{axis}
\begin{axis}[rowD, at={(372pt,-884pt)}]
\ser{tm}{tm}{\tD}\ser{ts}{ts}{\tD}\ser{nb}{nb}{\tD}
\ser{d1}{Bd1}{\tD}\ser{d2}{Bd2}{\tD}\ser{d3}{Bd3}{\tD}\ser{d4}{Bd4}{\tD}\ser{a1k}{Ba1}{\tD}\ser{a2}{Ba2}{\tD}
\end{axis}
\begin{axis}[rowD, at={(715pt,-884pt)}]
\ser{tm}{tm}{\tD}\ser{ts}{ts}{\tD}\ser{nb}{nb}{\tD}
\ser{d1}{Dd1}{\tD}\ser{d2}{Dd2}{\tD}\ser{d3}{Dd3}{\tD}\ser{d4}{Dd4}{\tD}\ser{a1}{Da1}{\tD}\ser{a2}{Da2}{\tD}
\end{axis}

% ---- row e ----
\begin{axis}[rowE, at={(33pt,-1172pt)}]
\ser{tm}{tm}{\tE}\ser{ts}{ts}{\tE}\ser{nb}{nb}{\tE}
\ser{d1}{Md1}{\tE}\ser{d2}{Md2}{\tE}\ser{d3}{Md3}{\tE}\ser{d4}{Md4}{\tE}\ser{d5}{Md5}{\tE}\ser{a1}{Ma1}{\tE}\ser{a2}{Ma2}{\tE}
\end{axis}
\begin{axis}[rowE, at={(372pt,-1172pt)}]
\ser{tm}{tm}{\tE}\ser{ts}{ts}{\tE}\ser{nb}{nb}{\tE}
\ser{d1}{Bd1}{\tE}\ser{d2}{Bd2}{\tE}\ser{d3}{Bd3}{\tE}\ser{d4}{Bd4}{\tE}\ser{d5}{Bd5}{\tE}\ser{a1k}{Ba1}{\tE}\ser{a2}{Ba2}{\tE}
\end{axis}
\begin{axis}[rowE, at={(715pt,-1172pt)}]
\ser{tm}{tm}{\tE}\ser{ts}{ts}{\tE}\ser{nb}{nb}{\tE}
\ser{d1}{Dd1}{\tE}\ser{d2}{Dd2}{\tE}\ser{d3}{Dd3}{\tE}\ser{d4}{Dd4}{\tE}\ser{d5}{Dd5}{\tE}\ser{a1}{Da1}{\tE}\ser{a2}{Da2}{\tE}
\end{axis}

% score labels inside the panels
\begin{scope}[every node/.style={font=\fontsize{15.5}{18}\selectfont}]
\node at (155,-50) {MDL};   \node at (500,-50) {Bayes};   \node at (874,-51) {BDeu};
\node at (155,-328) {MDL};  \node at (502,-328) {Bayes};  \node at (874,-330) {BDeu};
\node at (155,-609) {MDL};  \node at (500,-609) {Bayes};  \node at (872,-609) {BDeu};
\node at (155,-900) {MDL};  \node at (500,-900) {Bayes};  \node at (874,-900) {BDeu};
\node at (155,-1185) {MDL}; \node at (500,-1185) {Bayes}; \node at (882,-1190) {BDeu};
\end{scope}

% legend
\legcol{180}{tm}{True Model}{d1}{1-DBC}
\legcol{269}{ts}{True Struct.}{d2}{2-DBC}
\legcol{368}{nb}{NB}{d3}{3-DBC}
\legcol{462}{a1}{Adap1}{d4}{4-DBC}
\legcol{555}{a2}{Adap2}{d5}{5-DBC}
\end{tikzpicture}
\end{document}
